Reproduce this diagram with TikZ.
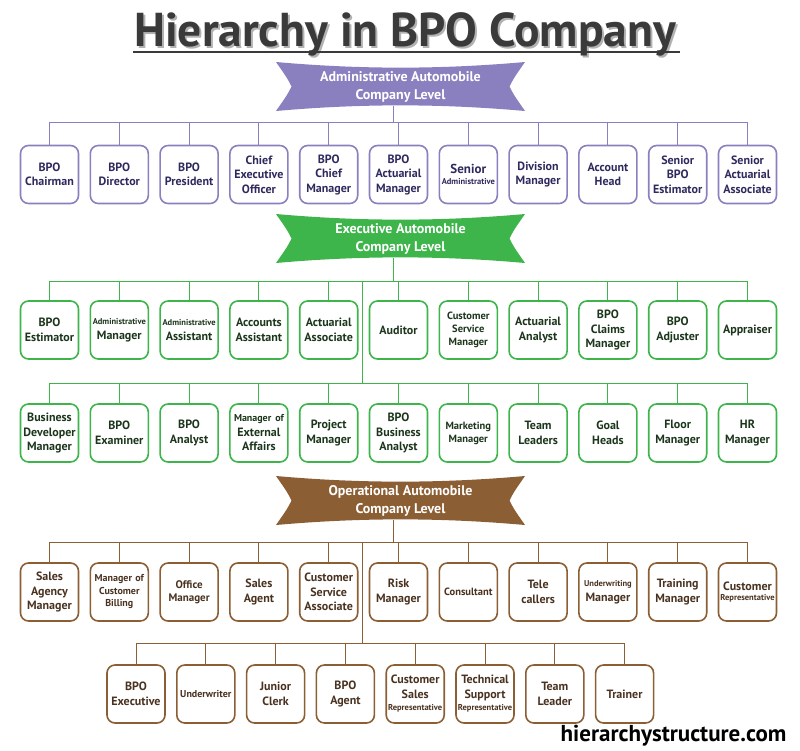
\documentclass[tikz,border=0pt]{standalone}
\usepackage{fontspec}
\setmainfont{PT Sans}
\usetikzlibrary{calc}

\definecolor{admcol}{HTML}{8A80BF}
\definecolor{admtext}{HTML}{2E2A5E}
\definecolor{execol}{HTML}{3DB54A}
\definecolor{exetext}{HTML}{1C361C}
\definecolor{opscol}{HTML}{8B5E34}
\definecolor{opstext}{HTML}{4A3220}
\definecolor{headgray}{HTML}{3A3A3A}

\begin{document}
\begin{tikzpicture}[x=1pt, y=-1pt,
    box/.style={draw, fill=white, rounded corners=8pt, line width=1.6pt,
        minimum width=58pt, minimum height=58pt, text width=58pt,
        inner sep=0pt, align=center,
        font=\fontsize{12}{14.5}\selectfont\bfseries},
    admbox/.style={box, draw=admcol, text=admtext},
    exebox/.style={box, draw=execol, text=exetext},
    opsbox/.style={box, draw=opscol, text=opstext},
    ribbontext/.style={text=white, align=center,
        font=\fontsize{14}{18}\selectfont\bfseries},
    admline/.style={draw=admcol, line width=1pt},
    exeline/.style={draw=execol, line width=1pt},
    opsline/.style={draw=opscol, line width=1pt}]

    % --- 1. Frame and Macros ---
    \useasboundingbox (0,0) rectangle (800,750);
    \def\sm#1{{\fontsize{8.5}{9}\selectfont #1}}
    % Ribbon banner: concave on all four sides
    \def\ribbon#1#2{
        \fill[#1, shift={#2}] (-124.5,-24.5)
            .. controls (-40,-17) and (40,-17) .. (124.5,-24.5)
            .. controls (113,-8) .. (109,0)
            .. controls (113,8) .. (124.5,24.5)
            .. controls (40,17) and (-40,17) .. (-124.5,24.5)
            .. controls (-113,8) .. (-109,0)
            .. controls (-113,-8) .. cycle;
    }

    % --- 2. Title ---
    \node[anchor=base, text=black!30, font=\fontsize{47.5}{50}\selectfont\bfseries]
        (title_shadow) at (407,48) {Hierarchy in BPO Company};
    \node[anchor=base, text=headgray, font=\fontsize{47.5}{50}\selectfont\bfseries]
        (title) at (405,46) {Hierarchy in BPO Company};
    \draw[line width=1.3pt, headgray] (133,52) -- (680,52);

    % --- 3. Administrative Level ---
    \ribbon{admcol}{(400.5,86.5)}
    \node[ribbontext] (Adm) at (400.5,86.5) {Administrative Automobile\\Company Level};
    \coordinate (Adm_tail) at (393,106);
    \coordinate (Adm_bus) at (393,122.5);

    \node[admbox] (Adm1) at (49.5,174.5) {BPO\\Chairman};
    \node[admbox] (Adm2) at (119.3,174.5) {BPO\\Director};
    \node[admbox] (Adm3) at (189.1,174.5) {BPO\\President};
    \node[admbox] (Adm4) at (258.9,174.5) {Chief\\Executive\\Officer};
    \node[admbox] (Adm5) at (328.7,174.5) {BPO\\Chief\\Manager};
    \node[admbox] (Adm6) at (398.5,174.5) {BPO\\Actuarial\\Manager};
    \node[admbox] (Adm7) at (468.3,174.5) {{\fontsize{13}{14}\selectfont Senior}\\[-4pt]\sm{Administrative}};
    \node[admbox] (Adm8) at (538.1,174.5) {Division\\Manager};
    \node[admbox] (Adm9) at (607.9,174.5) {Account\\Head};
    \node[admbox] (Adm10) at (677.7,174.5) {Senior\\BPO\\Estimator};
    \node[admbox] (Adm11) at (747.5,174.5) {Senior\\Actuarial\\Associate};

    \draw[admline] (Adm_tail) -- (Adm_bus);
    \draw[admline] (Adm1.north) |- (Adm_bus) (Adm2.north) |- (Adm_bus)
        (Adm3.north) |- (Adm_bus) (Adm4.north) |- (Adm_bus)
        (Adm5.north) |- (Adm_bus) (Adm6.north) |- (Adm_bus)
        (Adm7.north) |- (Adm_bus) (Adm8.north) |- (Adm_bus)
        (Adm9.north) |- (Adm_bus) (Adm10.north) |- (Adm_bus)
        (Adm11.north) |- (Adm_bus);

    % --- 4. Executive Level ---
    \ribbon{execol}{(400.5,238.5)}
    \node[ribbontext] (Exe) at (400.5,238.5) {Executive Automobile\\Company Level};
    \coordinate (Exe_tail) at (393,258);
    \coordinate (Exe_bus) at (393,281);
    \coordinate (ExeB_bus) at (362,383);

    \node[exebox] (ExeA1) at (49.5,330) {BPO\\Estimator};
    \node[exebox] (ExeA2) at (119.3,330) {\sm{Administrative}\\Manager};
    \node[exebox] (ExeA3) at (189.1,330) {\sm{Administrative}\\Assistant};
    \node[exebox] (ExeA4) at (258.9,330) {Accounts\\Assistant};
    \node[exebox] (ExeA5) at (328.7,330) {Actuarial\\Associate};
    \node[exebox] (ExeA6) at (398.5,330) {Auditor};
    \node[exebox, font=\fontsize{10.5}{13}\selectfont\bfseries] (ExeA7) at (468.3,330) {Customer\\Service\\Manager};
    \node[exebox] (ExeA8) at (538.1,330) {Actuarial\\Analyst};
    \node[exebox] (ExeA9) at (607.9,330) {BPO\\Claims\\Manager};
    \node[exebox] (ExeA10) at (677.7,330) {BPO\\Adjuster};
    \node[exebox] (ExeA11) at (747.5,330) {Appraiser};

    \node[exebox] (ExeB1) at (49.5,433) {Business\\Developer\\Manager};
    \node[exebox] (ExeB2) at (119.3,433) {BPO\\Examiner};
    \node[exebox] (ExeB3) at (189.1,433) {BPO\\Analyst};
    \node[exebox] (ExeB4) at (258.9,433) {{\fontsize{10}{11}\selectfont Manager of}\\External\\Affairs};
    \node[exebox] (ExeB5) at (328.7,433) {Project\\Manager};
    \node[exebox] (ExeB6) at (398.5,433) {BPO\\Business\\Analyst};
    \node[exebox, font=\fontsize{10.5}{13}\selectfont\bfseries] (ExeB7) at (468.3,433) {Marketing\\Manager};
    \node[exebox] (ExeB8) at (538.1,433) {Team\\Leaders};
    \node[exebox] (ExeB9) at (607.9,433) {Goal\\Heads};
    \node[exebox] (ExeB10) at (677.7,433) {Floor\\Manager};
    \node[exebox] (ExeB11) at (747.5,433) {HR\\Manager};

    \draw[exeline] (Exe_tail) -- (Exe_bus);
    \draw[exeline] (ExeA1.north) |- (Exe_bus) (ExeA2.north) |- (Exe_bus)
        (ExeA3.north) |- (Exe_bus) (ExeA4.north) |- (Exe_bus)
        (ExeA5.north) |- (Exe_bus) (ExeA6.north) |- (Exe_bus)
        (ExeA7.north) |- (Exe_bus) (ExeA8.north) |- (Exe_bus)
        (ExeA9.north) |- (Exe_bus) (ExeA10.north) |- (Exe_bus)
        (ExeA11.north) |- (Exe_bus);
    \draw[exeline] (ExeB_bus) -- (ExeB_bus |- Exe_bus);
    \draw[exeline] (ExeB1.north) |- (ExeB_bus) (ExeB2.north) |- (ExeB_bus)
        (ExeB3.north) |- (ExeB_bus) (ExeB4.north) |- (ExeB_bus)
        (ExeB5.north) |- (ExeB_bus) (ExeB6.north) |- (ExeB_bus)
        (ExeB7.north) |- (ExeB_bus) (ExeB8.north) |- (ExeB_bus)
        (ExeB9.north) |- (ExeB_bus) (ExeB10.north) |- (ExeB_bus)
        (ExeB11.north) |- (ExeB_bus);

    % --- 5. Operational Level ---
    \ribbon{opscol}{(400.5,500.5)}
    \node[ribbontext] (Ops) at (400.5,500.5) {Operational Automobile\\Company Level};
    \coordinate (Ops_tail) at (393,520);
    \coordinate (Ops_bus) at (393,542);
    \coordinate (OpsB_bus) at (362,643);

    \node[opsbox] (OpsA1) at (49.5,592) {Sales\\Agency\\Manager};
    \node[opsbox, font=\fontsize{10}{12.5}\selectfont\bfseries] (OpsA2) at (119.3,592) {Manager of\\Customer\\Billing};
    \node[opsbox, font=\fontsize{11}{13.5}\selectfont\bfseries] (OpsA3) at (189.1,592) {Office\\Manager};
    \node[opsbox] (OpsA4) at (258.9,592) {Sales\\Agent};
    \node[opsbox] (OpsA5) at (328.7,592) {Customer\\Service\\Associate};
    \node[opsbox] (OpsA6) at (398.5,592) {Risk\\Manager};
    \node[opsbox, font=\fontsize{10.5}{13}\selectfont\bfseries] (OpsA7) at (468.3,592) {Consultant};
    \node[opsbox] (OpsA8) at (538.1,592) {Tele\\callers};
    \node[opsbox] (OpsA9) at (607.9,592) {\sm{Underwriting}\\Manager};
    \node[opsbox] (OpsA10) at (677.7,592) {Training\\Manager};
    \node[opsbox] (OpsA11) at (747.5,592) {Customer\\[-4pt]\sm{Representative}};

    \node[opsbox] (OpsB1) at (136,694) {BPO\\Executive};
    \node[opsbox, font=\fontsize{10}{12.5}\selectfont\bfseries] (OpsB2) at (205.8,694) {Underwriter};
    \node[opsbox] (OpsB3) at (275.6,694) {Junior\\Clerk};
    \node[opsbox] (OpsB4) at (345.4,694) {BPO\\Agent};
    \node[opsbox] (OpsB5) at (415.2,694) {Customer\\Sales\\[-2pt]\sm{Representative}};
    \node[opsbox] (OpsB6) at (485,694) {Technical\\Support\\[-2pt]\sm{Representative}};
    \node[opsbox] (OpsB7) at (554.8,694) {Team\\Leader};
    \node[opsbox] (OpsB8) at (624.6,694) {Trainer};

    \draw[opsline] (Ops_tail) -- (Ops_bus);
    \draw[opsline] (OpsA1.north) |- (Ops_bus) (OpsA2.north) |- (Ops_bus)
        (OpsA3.north) |- (Ops_bus) (OpsA4.north) |- (Ops_bus)
        (OpsA5.north) |- (Ops_bus) (OpsA6.north) |- (Ops_bus)
        (OpsA7.north) |- (Ops_bus) (OpsA8.north) |- (Ops_bus)
        (OpsA9.north) |- (Ops_bus) (OpsA10.north) |- (Ops_bus)
        (OpsA11.north) |- (Ops_bus);
    \draw[opsline] (OpsB_bus) -- (OpsB_bus |- Ops_bus);
    \draw[opsline] (OpsB1.north) |- (OpsB_bus) (OpsB2.north) |- (OpsB_bus)
        (OpsB3.north) |- (OpsB_bus) (OpsB4.north) |- (OpsB_bus)
        (OpsB5.north) |- (OpsB_bus) (OpsB6.north) |- (OpsB_bus)
        (OpsB7.north) |- (OpsB_bus) (OpsB8.north) |- (OpsB_bus);

    % --- 6. Watermark ---
    \node[anchor=base east, font=\fontsize{23}{25}\selectfont\bfseries]
        (site) at (790,741) {hierarchystructure.com};

\end{tikzpicture}
\end{document}
